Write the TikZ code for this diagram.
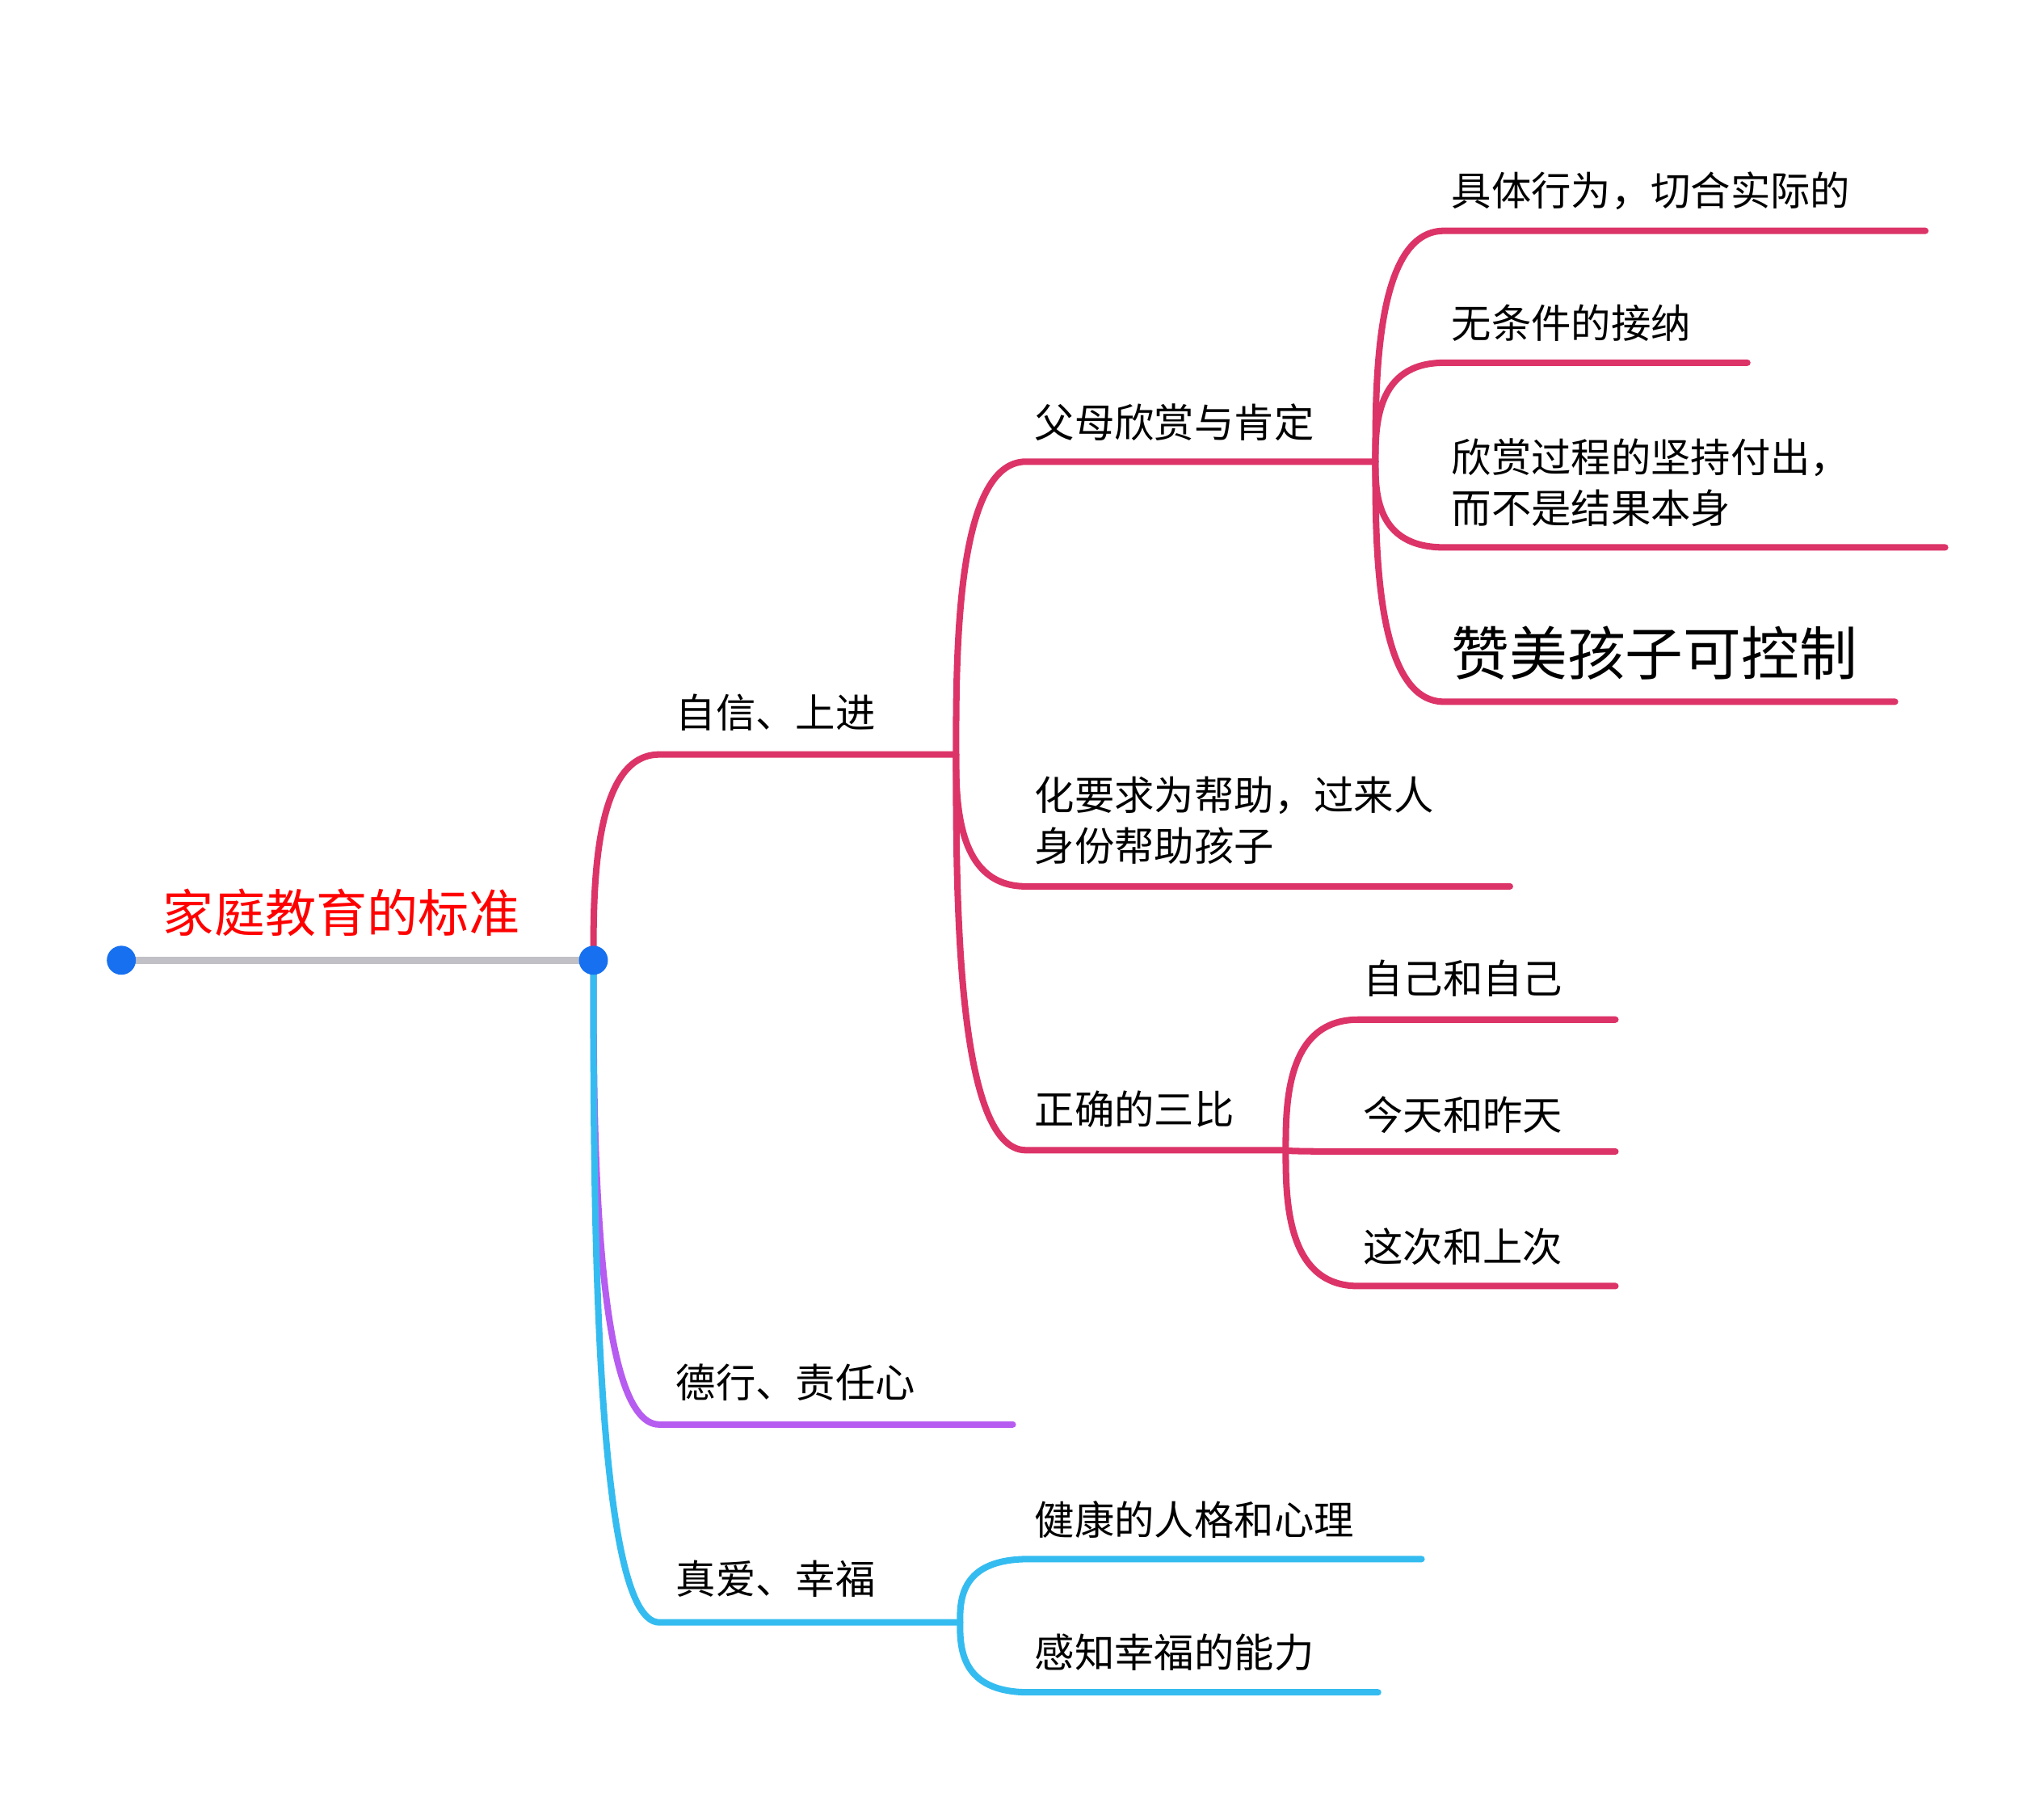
\documentclass[tikz,border=0pt]{standalone}
\usepackage{fontspec}
\setmainfont{Noto Sans CJK SC}
\usetikzlibrary{calc}
\definecolor{rose}{RGB}{220,52,104}
\definecolor{violet}{RGB}{183,92,240}
\definecolor{sky}{RGB}{52,188,240}
\definecolor{rootgray}{RGB}{192,192,198}
\definecolor{dotblue}{RGB}{22,112,240}
\tikzset{
  twig/.style={line width=1.4pt,line cap=round},
  lbl/.style={anchor=west,inner sep=0pt,font=\fontsize{8.6pt}{11pt}\selectfont,align=left},
}
% curved link from a fork point to the start of a line, then the line
\newcommand\twig[4]{\draw[twig,#1] (#2) .. controls ($(#2)!0.35!(#2|-#3)$) and (#2|-#3) .. (#3) -- (#4);}

\begin{document}
\begin{tikzpicture}[x=0.01cm,y=-0.01cm]
  \useasboundingbox (0,0) rectangle (1550,1363);

  \coordinate (root) at (92,728);
  \coordinate (hub) at (450,728);
  \draw[twig,rootgray,line width=1.6pt] (root) -- (hub);
  \node[lbl,text=red,font=\fontsize{11pt}{13pt}\selectfont] (title) at (123,692) {家庭教育的标准};

  % level 1
  \coordinate (a0) at (500,572);  \coordinate (a1) at (725,572);
  \coordinate (b0) at (500,1080); \coordinate (b1) at (768,1080);
  \coordinate (c0) at (500,1230); \coordinate (c1) at (728,1230);
  \twig{violet}{hub}{b0}{b1}
  \twig{sky}{hub}{c0}{c1}
  \twig{rose}{hub}{a0}{a1}
  \node[lbl] (confident) at (512,540) {自信、上进};
  \node[lbl] (virtue) at (512,1048) {德行、责任心};
  \node[lbl] (love) at (512,1197) {真爱、幸福};

  % under 自信、上进
  \coordinate (p0) at (778,350); \coordinate (p1) at (1043,350);
  \coordinate (q0) at (778,672); \coordinate (q1) at (1145,672);
  \coordinate (r0) at (778,872); \coordinate (r1) at (975,872);
  \twig{rose}{a1}{p0}{p1}
  \twig{rose}{a1}{q0}{q1}
  \twig{rose}{a1}{r0}{r1}
  \node[lbl] (praise) at (784,320) {父母欣赏与肯定};
  \node[lbl] (help) at (784,622) {化要求为帮助，过来人\\身份帮助孩子};
  \node[lbl] (compare) at (784,841) {正确的三比};

  % under 父母欣赏与肯定
  \coordinate (p10) at (1095,175); \coordinate (p11) at (1460,175);
  \coordinate (p20) at (1095,275); \coordinate (p21) at (1325,275);
  \coordinate (p30) at (1095,415); \coordinate (p31) at (1475,415);
  \coordinate (p40) at (1095,532); \coordinate (p41) at (1437,532);
  \twig{rose}{p1}{p10}{p11}
  \twig{rose}{p1}{p20}{p21}
  \twig{rose}{p1}{p30}{p31}
  \twig{rose}{p1}{p40}{p41}
  \node[lbl] (concrete) at (1100,145) {具体行为，切合实际的};
  \node[lbl] (accept) at (1100,245) {无条件的接纳};
  \node[lbl] (process) at (1100,366) {欣赏过程的坚持付出，\\而不是结果本身};
  \node[lbl,font=\fontsize{12.5pt}{14pt}\selectfont] (control) at (1100,495) {赞美孩子可控制};

  % under 正确的三比
  \coordinate (r10) at (1030,773); \coordinate (r11) at (1225,773);
  \coordinate (r20) at (1030,873); \coordinate (r21) at (1225,873);
  \coordinate (r30) at (1030,975); \coordinate (r31) at (1225,975);
  \twig{rose}{r1}{r10}{r11}
  \twig{rose}{r1}{r20}{r21}
  \twig{rose}{r1}{r30}{r31}
  \node[lbl] (self) at (1033,742) {自己和自己};
  \node[lbl] (today) at (1033,845) {今天和昨天};
  \node[lbl] (thistime) at (1033,945) {这次和上次};

  % under 真爱、幸福
  \coordinate (c10) at (780,1182); \coordinate (c11) at (1078,1182);
  \coordinate (c20) at (780,1283); \coordinate (c21) at (1045,1283);
  \twig{sky}{c1}{c10}{c11}
  \twig{sky}{c1}{c20}{c21}
  \node[lbl] (health) at (784,1152) {健康的人格和心理};
  \node[lbl] (feel) at (784,1253) {感知幸福的能力};

  \fill[dotblue] (root) circle (11) (hub) circle (11);
\end{tikzpicture}
\end{document}
